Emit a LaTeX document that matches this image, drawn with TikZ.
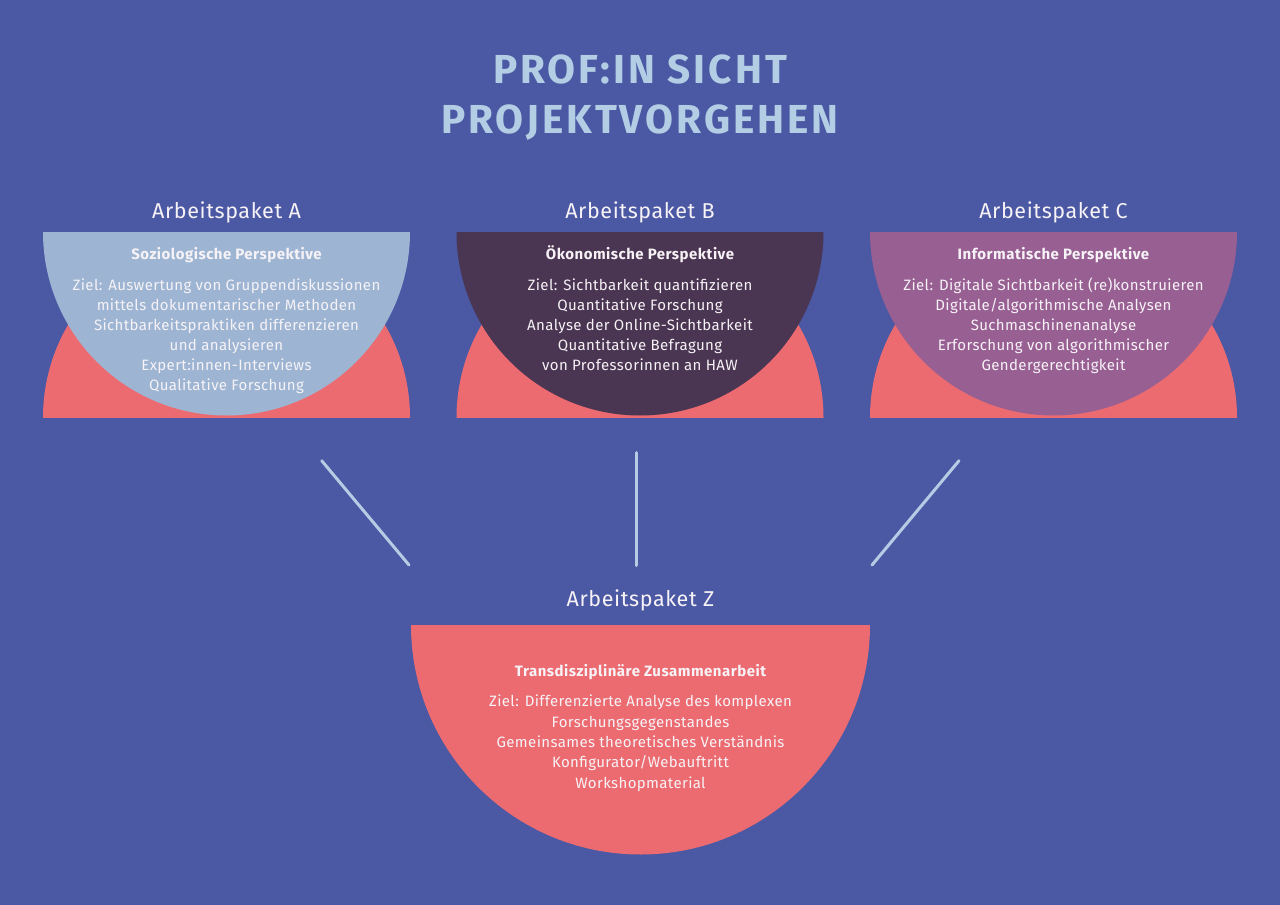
\documentclass[tikz,border=0pt]{standalone}
\usepackage{fontspec}
\setmainfont{Fira Sans}
\definecolor{bg}{HTML}{4B58A3}
\definecolor{coral}{HTML}{EC6B71}
\definecolor{paleblue}{HTML}{9DB5D3}
\definecolor{plum}{HTML}{4A3552}
\definecolor{mauve}{HTML}{985F93}
\definecolor{titlecol}{HTML}{B2CDE4}
\definecolor{txt}{HTML}{F6F2F6}
\definecolor{linecol}{HTML}{B4CCE4}
\begin{document}
\begin{tikzpicture}[x=1pt,y=-1pt,
  titletext/.style={anchor=base,inner sep=0,text=titlecol,font=\fontsize{40.5}{48}\selectfont\bfseries\addfontfeature{LetterSpace=7.4}},
  packtitle/.style={anchor=base,inner sep=0,text=txt,font=\fontsize{21.5}{26}\selectfont\addfontfeature{LetterSpace=2.8}},
  subtitle/.style={anchor=base,inner sep=0,text=txt,font=\fontsize{15}{20}\selectfont\bfseries\addfontfeature{LetterSpace=3.3}},
  bodytext/.style={anchor=base,inner sep=0,text=txt,font=\fontsize{15}{20}\selectfont\addfontfeature{LetterSpace=2.5}},
  bodytextz/.style={anchor=base,inner sep=0,text=txt,font=\fontsize{15}{20.4}\selectfont\addfontfeature{LetterSpace=2.5}},
  link/.style={draw=linecol,line width=3pt,line cap=round}]
\fill[bg] (0,0) rectangle (1280,905);
\useasboundingbox (0,0) rectangle (1280,905);

% title
\node[titletext] (t1) at (640,83) {PROF:IN SICHT};
\node[titletext] (t2) at (640,133) {PROJEKTVORGEHEN};

% half-disc shapes
\begin{scope}
\clip (43,232) rectangle (410,417.5);
\fill[coral] (226.5,417.5) circle[radius=183.5];
\fill[paleblue] (226.5,232) circle[radius=183.5];
\end{scope}
\begin{scope}
\clip (456.5,232) rectangle (823.5,417.5);
\fill[coral] (640,417.5) circle[radius=183.5];
\fill[plum] (640,232) circle[radius=183.5];
\end{scope}
\begin{scope}
\clip (870,232) rectangle (1237,417.5);
\fill[coral] (1053.5,417.5) circle[radius=183.5];
\fill[mauve] (1053.5,232) circle[radius=183.5];
\end{scope}
\begin{scope}
\clip (411,625) rectangle (870,860);
\fill[coral] (640.5,625) circle[radius=229.5];
\end{scope}

% package A
\node[packtitle] (pa) at (226.5,218.3) {Arbeitspaket A};
\node[subtitle] (sa) at (226.5,259) {Soziologische Perspektive};
\node[bodytext] (ba) at (226.5,290) {\begin{tabular}[t]{@{}c@{}}Ziel: Auswertung von Gruppendiskussionen\\mittels dokumentarischer Methoden\\Sichtbarkeitspraktiken differenzieren\\und analysieren\\Expert:innen-Interviews\\Qualitative Forschung\end{tabular}};

% package B
\node[packtitle] (pb) at (640,218.3) {Arbeitspaket B};
\node[subtitle] (sb) at (640,259) {Ökonomische Perspektive};
\node[bodytext] (bb) at (640,290) {\begin{tabular}[t]{@{}c@{}}Ziel: Sichtbarkeit quantifizieren\\Quantitative Forschung\\Analyse der Online-Sichtbarkeit\\Quantitative Befragung\\von Professorinnen an HAW\end{tabular}};

% package C
\node[packtitle] (pc) at (1053.5,218.3) {Arbeitspaket C};
\node[subtitle] (sc) at (1053.5,259) {Informatische Perspektive};
\node[bodytext] (bc) at (1053.5,290) {\begin{tabular}[t]{@{}c@{}}Ziel: Digitale Sichtbarkeit (re)konstruieren\\Digitale/algorithmische Analysen\\Suchmaschinenanalyse\\Erforschung von algorithmischer\\Gendergerechtigkeit\end{tabular}};

% package Z
\node[packtitle] (pz) at (640.5,606) {Arbeitspaket Z};
\node[subtitle] (sz) at (640.5,676) {Transdisziplinäre Zusammenarbeit};
\node[bodytextz] (bz) at (640.5,706.7) {\begin{tabular}[t]{@{}c@{}}Ziel: Differenzierte Analyse des komplexen\\Forschungsgegenstandes\\Gemeinsames theoretisches Verständnis\\Konfigurator/Webauftritt\\Workshopmaterial\end{tabular}};

% connectors
\coordinate (la1) at (321.7,460.7);
\coordinate (la2) at (409,565);
\coordinate (lb1) at (636.5,452.5);
\coordinate (lb2) at (636.5,565.5);
\coordinate (lc1) at (959,460.7);
\coordinate (lc2) at (872,565);
\draw[link] (la1) -- (la2);
\draw[link] (lb1) -- (lb2);
\draw[link] (lc1) -- (lc2);
\end{tikzpicture}
\end{document}
